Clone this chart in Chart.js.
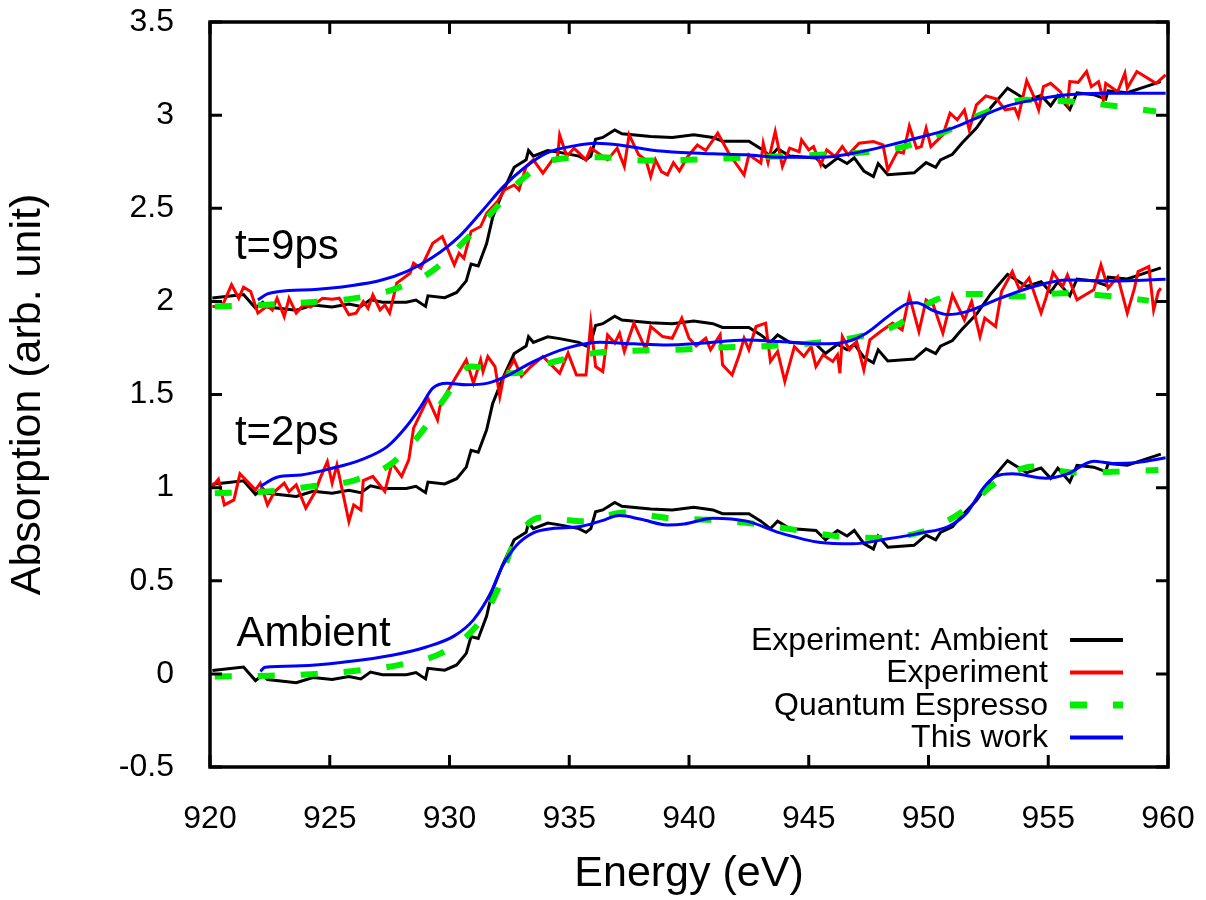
<!DOCTYPE html>
<html>
<head>
<meta charset="utf-8">
<script src="https://cdn.jsdelivr.net/npm/chart.js@4/dist/chart.umd.min.js"></script>
<style>
  html, body { margin: 0; padding: 0; background: #fff; }
  canvas { display: block; }
</style>
</head>
<body>
<canvas id="xasChart" width="1206" height="900"></canvas>
<script>
// Cu L-edge spectra, [energy (eV), absorption (arb. unit)]

// measured ambient spectrum, repeated under each delay
const ambientExp = [
  [920.1,0.018],[921.4,0.037],[921.9,-0.036],[922.2,-0.005],[922.4,-0.03],[923.6,-0.047],[924.3,-0.02],
  [925.1,-0.03],[925.8,-0.014],[926.3,-0.027],[926.7,0.01],[927.2,-0.005],[928.2,-0.005],[928.6,0.007],
  [929.0,-0.027],[929.1,0.03],[929.8,0.02],[930.3,0.048],[930.7,0.11],[930.9,0.2],[931.2,0.19],
  [931.55,0.31],[931.8,0.45],[932.2,0.58],[932.7,0.72],[933.2,0.76],[933.3,0.81],[933.5,0.78],
  [934.1,0.81],[934.6,0.80],[935.4,0.78],[935.7,0.76],[935.9,0.78],[936.1,0.87],[936.4,0.88],
  [936.9,0.92],[937.2,0.90],[938.4,0.885],[939.3,0.88],[940.2,0.895],[941.0,0.88],[941.4,0.86],
  [942.5,0.86],[943.0,0.82],[943.4,0.78],[943.7,0.82],[944.2,0.78],[945.3,0.77],[945.7,0.72],
  [946.2,0.77],[946.6,0.74],[946.9,0.77],[947.3,0.70],[947.7,0.67],[947.9,0.74],[948.3,0.68],
  [949.4,0.69],[949.9,0.745],[950.3,0.72],[950.5,0.76],[951.0,0.79],[951.4,0.85],[952.0,0.93],
  [952.6,1.04],[953.3,1.145],[954.1,1.08],[954.7,1.105],[955.1,1.05],[955.4,1.105],[955.9,1.03],
  [956.2,1.12],[956.9,1.11],[957.4,1.086],[957.5,1.13],[958.3,1.12],[959.0,1.15],[959.7,1.18]
];
const ambientOffsets = [0, 1, 2];

// pumped measurements
const exp2ps = [
  [920.1,1.006],[920.35,1.045],[920.6,0.907],[921.0,0.934],[921.25,1.074],[921.9,0.988],[922.1,1.024],
  [922.4,0.907],[922.7,0.979],[923.1,1.024],[923.3,0.979],[923.6,1.015],[924.0,0.89],[924.4,0.979],
  [924.6,1.051],[924.9,1.14],[925.1,1.024],[925.3,1.122],[925.8,0.818],[926.0,0.907],[926.3,0.88],
  [926.4,1.038],[926.8,1.06],[927.3,0.979],[927.6,1.131],[928.0,1.06],[928.3,1.149],[928.5,1.319],
  [929.1,1.48],[929.5,1.364],[929.6,1.435],[929.95,1.525],[930.7,1.686],[931.0,1.561],[931.3,1.686],
  [931.4,1.623],[931.6,1.704],[931.9,1.65],[932.1,1.489],[932.25,1.588],[932.7,1.686],[933.0,1.597],
  [933.4,1.65],[933.9,1.704],[934.6,1.614],[934.95,1.722],[935.3,1.605],[935.7,1.605],[935.9,1.883],
  [936.1,1.65],[936.4,1.623],[936.6,1.82],[936.9,1.776],[937.1,1.829],[937.3,1.731],[937.7,1.883],
  [938.2,1.74],[938.4,1.865],[938.9,1.811],[939.3,1.802],[939.7,1.91],[940.0,1.802],[940.3,1.761],
  [940.7,1.802],[940.9,1.74],[941.3,1.82],[941.4,1.659],[941.8,1.605],[942.1,1.713],[942.3,1.802],
  [942.5,1.74],[942.8,1.865],[943.2,1.883],[943.4,1.677],[943.7,1.731],[944.0,1.57],[944.4,1.757],
  [944.8,1.704],[945.1,1.757],[945.3,1.65],[945.6,1.713],[946.0,1.677],[946.2,1.713],[946.3,1.614],
  [946.4,1.811],[946.7,1.74],[947.0,1.784],[947.3,1.632],[947.55,1.793],[948.0,1.838],[948.5,1.883],
  [948.9,1.847],[949.2,2.03],[949.6,1.838],[949.9,2.008],[950.2,1.981],[950.6,1.829],[951.0,2.035],
  [951.5,1.9],[951.8,1.999],[952.15,1.811],[952.35,1.91],[952.8,1.865],[953.05,2.053],[953.5,2.16],
  [953.8,2.062],[954.2,2.125],[954.7,1.937],[954.9,2.017],[955.2,2.155],[955.6,2.08],[955.8,2.142],
  [956.2,2.008],[956.9,2.062],[957.2,2.196],[957.5,2.071],[957.9,2.133],[958.3,1.937],[958.6,2.071],
  [958.75,2.16],[959.2,2.187],[959.4,1.954],[959.6,2.053],[959.7,2.071]
];
const exp9ps = [
  [920.1,1.972],[920.5,1.972],[920.9,2.089],[921.2,2.017],[921.4,2.076],[921.7,2.053],[922.0,1.937],
  [922.4,1.976],[922.6,1.954],[922.8,2.017],[923.1,1.918],[923.3,2.017],[923.6,1.937],[923.9,1.981],
  [924.2,1.969],[924.7,2.017],[925.1,2.012],[925.4,2.017],[925.8,1.928],[926.1,1.937],[926.4,1.999],
  [926.6,1.963],[926.8,2.035],[927.1,1.954],[927.3,1.981],[927.5,1.937],[927.8,2.098],[928.35,2.151],
  [928.5,2.205],[928.8,2.178],[929.3,2.312],[929.7,2.348],[930.2,2.196],[930.4,2.259],[930.6,2.232],
  [930.9,2.375],[931.3,2.402],[931.55,2.473],[932.0,2.536],[932.3,2.599],[932.7,2.625],[932.9,2.599],
  [933.2,2.724],[933.5,2.76],[933.9,2.688],[934.3,2.76],[934.5,2.76],[934.6,2.894],[934.9,2.778],
  [935.2,2.823],[935.7,2.76],[935.9,2.823],[936.3,2.787],[936.6,2.76],[937.0,2.823],[937.3,2.724],
  [937.5,2.894],[937.9,2.787],[938.2,2.76],[938.4,2.67],[938.6,2.76],[938.85,2.697],[939.1,2.679],
  [939.35,2.745],[939.6,2.70],[939.95,2.778],[940.35,2.84],[940.7,2.81],[941.2,2.903],[941.7,2.787],
  [942.3,2.679],[942.5,2.787],[943.0,2.742],[943.1,2.849],[943.3,2.745],[943.6,2.912],[943.9,2.724],
  [944.2,2.823],[944.6,2.804],[944.7,2.867],[945.0,2.813],[945.2,2.831],[945.5,2.733],[945.75,2.813],
  [946.1,2.778],[946.4,2.831],[946.65,2.787],[947.1,2.849],[947.7,2.858],[948.1,2.84],[948.3,2.706],
  [948.7,2.804],[948.95,2.796],[949.2,2.942],[949.5,2.823],[949.7,2.831],[949.9,2.93],[950.1,2.831],
  [950.6,2.894],[950.9,3.01],[951.2,2.975],[951.5,3.028],[951.7,2.921],[952.0,3.055],[952.4,3.103],
  [952.85,3.086],[953.2,3.028],[953.6,3.037],[953.75,2.992],[954.1,3.185],[954.4,3.1],[954.6,3.028],
  [954.8,3.153],[955.1,3.171],[955.5,3.126],[955.8,3.055],[955.9,3.18],[956.25,3.176],[956.6,3.234],
  [956.8,3.153],[957.1,3.18],[957.3,3.082],[957.4,3.171],[957.9,3.126],[958.2,3.225],[958.3,3.145],
  [958.7,3.234],[959.5,3.171],[959.9,3.216]
];

// Quantum Espresso spectra
const qeAmbient = [
  [920.2,-0.014],[922.5,-0.01],[924.4,0.0],[926.2,0.018],[927.9,0.048],[929.7,0.114],[931.1,0.254],
  [932.0,0.45],[932.6,0.676],[933.8,0.84],[935.6,0.82],[937.3,0.866],[939.1,0.837],[940.9,0.827],
  [942.8,0.805],[944.6,0.77],[946.3,0.737],[948.1,0.73],[949.9,0.77],[951.4,0.87],[952.8,1.025],
  [954.4,1.113],[956.2,1.08],[958.0,1.086],[959.6,1.095]
];
const qe2ps = [
  [920.2,0.97],[922.4,0.979],[924.2,1.006],[926.0,1.038],[927.6,1.131],[928.8,1.292],[929.8,1.48],
  [930.9,1.65],[932.7,1.614],[934.4,1.677],[936.2,1.725],[938.0,1.736],[939.8,1.742],[941.6,1.754],
  [943.4,1.761],[945.2,1.776],[947.1,1.811],[948.7,1.874],[950.3,2.008],[952.0,2.04],[953.8,2.026],
  [955.6,2.044],[957.4,2.03],[959.2,2.004]
];
const qe9ps = [
  [920.2,1.972],[922.2,1.981],[924.0,1.994],[925.8,2.012],[927.6,2.062],[929.25,2.16],[930.6,2.321],
  [931.8,2.482],[933.0,2.652],[934.5,2.763],[936.35,2.774],[938.2,2.756],[940.0,2.76],[941.8,2.769],
  [943.6,2.778],[945.4,2.787],[947.2,2.799],[949.0,2.831],[950.8,2.917],[952.3,3.01],[954.1,3.082],
  [955.9,3.073],[957.7,3.05],[959.5,3.019]
];

// this work
const workAmbient = [
  [922.1,0.013],[922.3,0.036],[923.8,0.043],[925.8,0.066],[927.6,0.10],[929.0,0.143],[930.2,0.204],
  [931.0,0.29],[931.7,0.43],[932.2,0.576],[932.8,0.69],[933.5,0.757],[934.3,0.78],[935.4,0.79],
  [936.3,0.82],[937.1,0.85],[938.0,0.83],[939.1,0.80],[939.8,0.805],[941.0,0.836],[942.4,0.82],
  [943.8,0.757],[945.5,0.705],[946.8,0.698],[948.3,0.725],[949.7,0.757],[950.8,0.79],[951.6,0.864],
  [952.3,1.0],[952.8,1.06],[953.5,1.074],[954.9,1.05],[955.8,1.074],[956.9,1.142],[957.7,1.13],
  [958.7,1.135],[959.9,1.16]
];
const work2ps = [
  [922.1,1.006],[922.8,1.056],[923.8,1.068],[925.1,1.104],[926.3,1.149],[927.4,1.22],[928.2,1.328],
  [928.8,1.435],[929.3,1.534],[929.9,1.561],[930.7,1.552],[931.6,1.561],[932.4,1.6],[933.5,1.677],
  [934.9,1.749],[936.3,1.78],[937.7,1.772],[939.1,1.766],[940.5,1.775],[942.4,1.793],[943.8,1.784],
  [945.5,1.772],[946.6,1.784],[947.4,1.829],[948.3,1.918],[949.1,1.987],[949.5,1.993],[950.2,1.95],
  [950.8,1.929],[951.6,1.945],[953.0,2.017],[954.4,2.08],[955.8,2.115],[957.7,2.11],[959.9,2.119]
];
const work9ps = [
  [922.0,2.008],[922.4,2.04],[922.9,2.053],[924.5,2.065],[925.8,2.083],[927.1,2.112],[928.2,2.16],
  [929.3,2.237],[930.4,2.348],[931.4,2.491],[932.25,2.616],[933.1,2.715],[934.05,2.796],[935.2,2.835],
  [936.1,2.849],[937.1,2.84],[938.4,2.813],[939.7,2.799],[941.0,2.792],[942.4,2.787],[943.8,2.774],
  [945.5,2.774],[946.9,2.796],[948.25,2.835],[949.65,2.881],[951.0,2.93],[952.15,2.992],[953.3,3.05],
  [954.4,3.082],[955.8,3.109],[957.2,3.118],[959.9,3.118]
];

const curveLabels = ['t=9ps', 't=2ps', 'Ambient'];
const legendLabels = ['Experiment: Ambient', 'Experiment', 'Quantum Espresso', 'This work'];
const xTicks = { min: 920, max: 960, step: 5 };
const yTicks = { min: -0.5, max: 3.5, step: 0.5 };

const FONT = "'Liberation Sans', Arial, Helvetica, sans-serif";
Chart.defaults.font.family = FONT;
Chart.defaults.color = '#000';

const styles = {
  ambient: { borderColor: '#000000', borderWidth: 3, tension: 0 },
  exp:     { borderColor: '#ff0000', borderWidth: 3, tension: 0 },
  qe:      { borderColor: '#00ee00', borderWidth: 6, borderDash: [17, 26], cubicInterpolationMode: 'monotone' },
  work:    { borderColor: '#0000ff', borderWidth: 3, cubicInterpolationMode: 'monotone' }
};

const toXY = pts => pts.map(([e, a]) => ({ x: e, y: a }));

function series(pts, style, order) {
  return Object.assign({ data: toXY(pts), order, pointRadius: 0, fill: false }, style);
}

// lower order draws on top: blue over green over red over black
const datasets = [
  ...[workAmbient, work2ps, work9ps].map(p => series(p, styles.work, 0)),
  ...[qeAmbient, qe2ps, qe9ps].map(p => series(p, styles.qe, 1)),
  ...[exp2ps, exp9ps].map(p => series(p, styles.exp, 2)),
  ...ambientOffsets.map(off => series(ambientExp.map(([e, a]) => [e, a + off]), styles.ambient, 3))
];

const TICK = 12;

// gnuplot-like frame with inward ticks, curve labels and key
const framePlugin = {
  id: 'frame',
  afterDatasetsDraw(chart) {
    const { ctx, chartArea: a, scales: { x, y } } = chart;
    ctx.save();
    ctx.strokeStyle = '#000';
    ctx.lineWidth = 3;
    ctx.lineCap = 'butt';
    ctx.beginPath();
    x.ticks.forEach(t => {
      const px = x.getPixelForValue(t.value);
      ctx.moveTo(px, a.bottom); ctx.lineTo(px, a.bottom - TICK);
      ctx.moveTo(px, a.top); ctx.lineTo(px, a.top + TICK);
    });
    y.ticks.forEach(t => {
      const py = y.getPixelForValue(t.value);
      ctx.moveTo(a.left, py); ctx.lineTo(a.left + TICK, py);
      ctx.moveTo(a.right, py); ctx.lineTo(a.right - TICK, py);
    });
    ctx.stroke();
    ctx.lineWidth = 3.5;
    ctx.strokeRect(a.left, a.top, a.right - a.left, a.bottom - a.top);

    // curve labels, anchored in data space
    const anchors = [[921.04, 2.227], [921.04, 1.23], [921.11, 0.147]];
    ctx.fillStyle = '#000';
    ctx.font = '42px ' + FONT;
    ctx.textAlign = 'left';
    ctx.textBaseline = 'alphabetic';
    curveLabels.forEach((txt, i) => {
      ctx.fillText(txt, x.getPixelForValue(anchors[i][0]), y.getPixelForValue(anchors[i][1]));
    });

    // key, bottom right
    const keyStyles = [styles.ambient, styles.exp, styles.qe, styles.work];
    const textRight = a.right - 120;
    const lineL = a.right - 98, lineR = a.right - 45;
    ctx.font = '32px ' + FONT;
    ctx.textAlign = 'right';
    ctx.textBaseline = 'middle';
    legendLabels.forEach((txt, i) => {
      const row = a.bottom - 127 + i * 32.5;
      ctx.fillText(txt, textRight, row + 1);
      const s = keyStyles[i];
      ctx.save();
      ctx.strokeStyle = s.borderColor;
      ctx.lineWidth = s.borderDash ? 7 : 4;
      ctx.setLineDash(s.borderDash || []);
      ctx.beginPath();
      ctx.moveTo(lineL, row);
      ctx.lineTo(lineR, row);
      ctx.stroke();
      ctx.restore();
    });
    ctx.restore();
  }
};

new Chart(document.getElementById('xasChart'), {
  type: 'line',
  data: { datasets },
  plugins: [framePlugin],
  options: {
    responsive: false,
    animation: false,
    events: [],
    layout: { padding: { left: 0, right: 38, top: 22, bottom: 0 } },
    plugins: { legend: { display: false }, tooltip: { enabled: false } },
    scales: {
      x: {
        type: 'linear',
        min: xTicks.min, max: xTicks.max,
        grid: { display: false },
        border: { display: false },
        ticks: { stepSize: xTicks.step, padding: 25, font: { size: 32 }, color: '#000', maxRotation: 0,
                 callback: v => String(v) },
        title: { display: true, text: 'Energy (eV)', font: { size: 43 }, color: '#000', padding: { top: 0, bottom: 0 } },
        // fixed band under the plot; end labels may overhang
        afterFit: s => { s.height = 133; s.paddingLeft = 0; s.paddingRight = 0; }
      },
      y: {
        type: 'linear',
        min: yTicks.min, max: yTicks.max,
        grid: { display: false },
        border: { display: false },
        ticks: { stepSize: yTicks.step, padding: 28, font: { size: 32 }, color: '#000',
                 callback: v => String(v) },
        title: { display: true, text: 'Absorption (arb. unit)', font: { size: 43 }, color: '#000', padding: { top: 2, bottom: 0 } },
        afterFit: s => { s.width = 210; s.paddingTop = 0; s.paddingBottom = 0; }
      }
    }
  }
});
</script>
</body>
</html>
